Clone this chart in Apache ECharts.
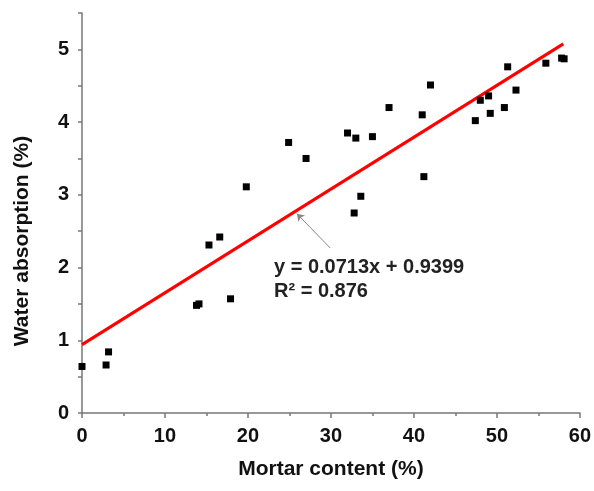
<!DOCTYPE html>
<html>
<head>
<meta charset="utf-8">
<script src="https://cdn.jsdelivr.net/npm/echarts@6/dist/echarts.min.js"></script>
<style>
    html, body { margin: 0; padding: 0; background: #fff; }
    #chart { width: 594px; height: 491px; }
</style>
</head>
<body>
<div id="chart"></div>
<script>
// mortar content (%) and water absorption (%)
const mortar = [0, 2.9, 3.2, 13.8, 14.1, 15.3, 16.6, 17.9, 19.8, 24.9, 27.0,
    32.0, 32.8, 33.0, 33.6, 35.0, 37.0, 41.0, 41.2, 42.0, 47.4, 48.0, 49.0,
    49.2, 50.9, 51.3, 52.3, 55.9, 57.8, 58.1]
const absorption = [0.64, 0.66, 0.84, 1.48, 1.50, 2.31, 2.42, 1.57, 3.11, 3.72, 3.50,
    3.85, 2.75, 3.78, 2.98, 3.80, 4.20, 4.10, 3.25, 4.51, 4.02, 4.30, 4.36,
    4.12, 4.20, 4.76, 4.44, 4.81, 4.88, 4.87]

// linear fit given in the figure
const slope = 0.0713
const intercept = 0.9399
const fitRange = [0, 58]
const fitLabel = ['y = 0.0713x + 0.9399', 'R² = 0.876']
const arrowFrom = [29.9, 2.27]
const arrowTo = [25.9, 2.74]

let chart = echarts.init(document.getElementById('chart'))
let points = mortar.map((x, i) => [x, absorption[i]])
let fitLine = fitRange.map(x => [x, +(slope * x + intercept).toFixed(4)])

let axisCommon = {
    axisLine: { show: true, onZero: false, lineStyle: { color: '#777', width: 1.5 } },
    axisTick: { show: true, inside: false, length: 5, lineStyle: { color: '#777', width: 1.5 } },
    minorTick: { show: true, splitNumber: 2, length: 3, lineStyle: { color: '#777', width: 1.5 } },
    splitLine: { show: false },
    axisLabel: { color: '#111', fontFamily: 'Liberation Sans', fontWeight: 'bold', fontSize: 20 },
    nameTextStyle: { color: '#111', fontFamily: 'Liberation Sans', fontWeight: 'bold', fontSize: 21 },
    nameLocation: 'middle'
}

let option = {
    backgroundColor: '#fff',
    animation: false,
    grid: { left: 82, right: 14, top: 13, bottom: 78, containLabel: false },
    xAxis: Object.assign({}, axisCommon, {
        type: 'value', min: 0, max: 60, interval: 10,
        name: 'Mortar content (%)', nameGap: 46,
        axisLabel: Object.assign({}, axisCommon.axisLabel, { margin: 13 })
    }),
    yAxis: Object.assign({}, axisCommon, {
        type: 'value', min: 0, max: 5.5, interval: 0.5,
        name: 'Water absorption (%)', nameGap: 49,
        nameTextStyle: Object.assign({}, axisCommon.nameTextStyle, { padding: [0, 56, 0, 0] }),
        minorTick: { show: false },
        axisTick: Object.assign({}, axisCommon.axisTick, { length: 4 }),
        axisLabel: Object.assign({}, axisCommon.axisLabel, {
            margin: 13,
            formatter: v => (Number.isInteger(v) ? String(v) : '')
        })
    }),
    series: [
        {
            type: 'line',
            data: fitLine,
            showSymbol: false,
            lineStyle: { color: '#ff0000', width: 3 },
            z: 3,
            markLine: {
                silent: true,
                symbol: ['none', 'arrow'],
                symbolSize: 7,
                lineStyle: { color: '#888', width: 1, type: 'solid' },
                label: { show: false },
                data: [[{ coord: arrowFrom }, { coord: arrowTo }]]
            }
        },
        {
            type: 'scatter',
            data: points,
            symbol: 'rect',
            symbolSize: 7,
            itemStyle: { color: '#000', opacity: 1 },
            z: 4
        }
    ],
    graphic: [
        {
            type: 'text', left: 274, top: 255,
            style: {
                text: fitLabel.join('\n'),
                fill: '#222',
                font: 'bold 20px "Liberation Sans"',
                lineHeight: 24
            }
        }
    ]
}
chart.setOption(option)
</script>
</body>
</html>
